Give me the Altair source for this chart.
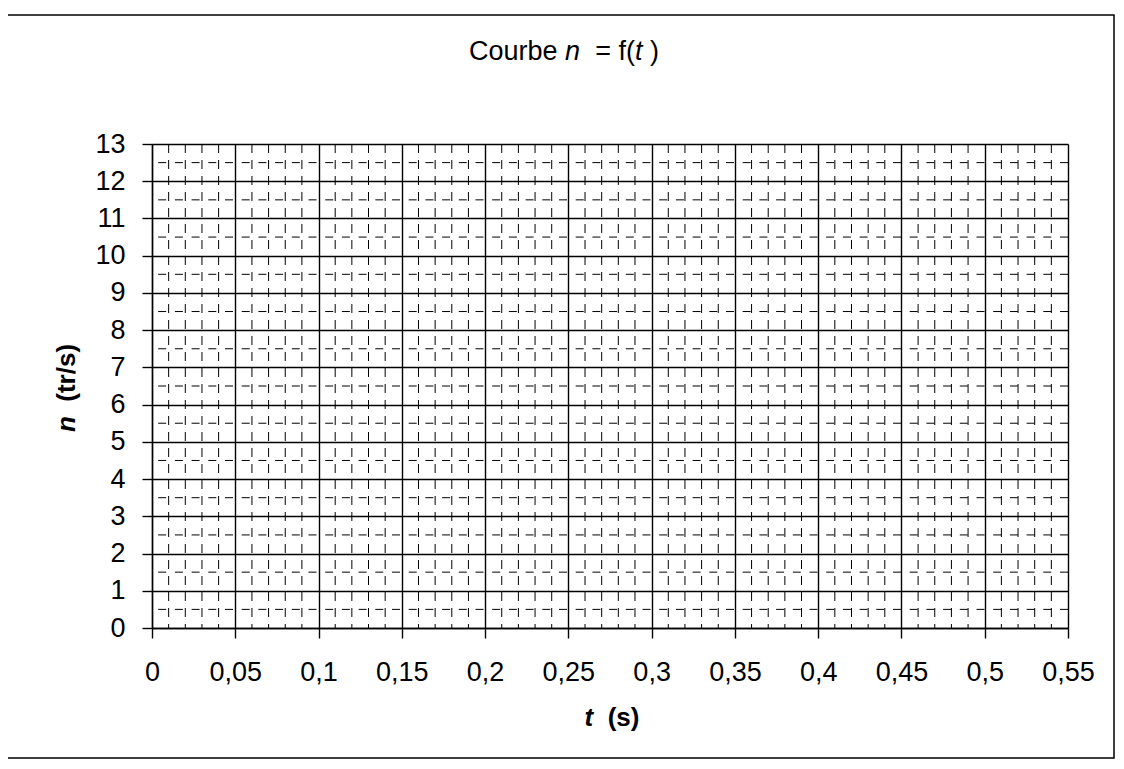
import altair as alt
import pandas as pd

# ---- data ----
t_major = [0, 0.05, 0.1, 0.15, 0.2, 0.25, 0.3, 0.35, 0.4, 0.45, 0.5, 0.55]
n_major = [0, 1, 2, 3, 4, 5, 6, 7, 8, 9, 10, 11, 12, 13]
t_minor = [0.01, 0.02, 0.03, 0.04, 0.06, 0.07, 0.08, 0.09,
           0.11, 0.12, 0.13, 0.14, 0.16, 0.17, 0.18, 0.19,
           0.21, 0.22, 0.23, 0.24, 0.26, 0.27, 0.28, 0.29,
           0.31, 0.32, 0.33, 0.34, 0.36, 0.37, 0.38, 0.39,
           0.41, 0.42, 0.43, 0.44, 0.46, 0.47, 0.48, 0.49,
           0.51, 0.52, 0.53, 0.54]
n_minor = [0.5, 1.5, 2.5, 3.5, 4.5, 5.5, 6.5, 7.5, 8.5, 9.5, 10.5, 11.5, 12.5]

FONT = "Liberation Sans"
W, H = 916, 484

xscale = alt.Scale(domain=[0, 0.55], nice=False, zero=False)
yscale = alt.Scale(domain=[0, 13], nice=False, zero=False)

xaxis = alt.Axis(values=t_major, grid=True, gridColor="black", gridWidth=1.4,
                 domainColor="black", domainWidth=1.4, tickColor="black", tickWidth=1.4,
                 tickSize=10, labelFont=FONT, labelFontSize=27, labelColor="black",
                 labelPadding=21, labelFlush=False, labelOverlap=False, title=None,
                 labelExpr="replace(format(datum.value, '.2~f'), '.', ',')")
yaxis = alt.Axis(values=n_major, grid=True, gridColor="black", gridWidth=1.4,
                 domainColor="black", domainWidth=1.4, tickColor="black", tickWidth=1.4,
                 tickSize=10, labelFont=FONT, labelFontSize=27, labelColor="black",
                 labelPadding=17, labelFlush=False, labelOverlap=False, title=None,
                 labelExpr="format(datum.value, 'd')")

vminor = alt.Chart(pd.DataFrame({"t": t_minor})).mark_rule(
    color="black", strokeWidth=1, strokeDash=[9, 7]
).encode(x=alt.X("t:Q", scale=xscale, axis=xaxis))

hminor = alt.Chart(pd.DataFrame({"n": n_minor})).mark_rule(
    color="black", strokeWidth=1, strokeDash=[8, 8.7]
).encode(y=alt.Y("n:Q", scale=yscale, axis=yaxis))

one = alt.Data(values=[{"k": 1}])

border = alt.Chart(one).mark_rect(fill="transparent", stroke="black", strokeWidth=1.5).encode(
    x=alt.value(-146), x2=alt.value(962), y=alt.value(-129), y2=alt.value(614)
)

# widths in em (Arial metrics) to place mixed-style text pieces
REG = {"C": .722, "o": .556, "u": .556, "r": .333, "b": .556, "e": .556, "n": .556,
       " ": .278, "=": .584, "f": .278, "(": .333, ")": .333, "t": .278}
BOLD = {"n": .611, "t": .333, " ": .278, "(": .333, ")": .333, "r": .389, "/": .278, "s": .556}


def pieces(parts, size, cx, cy, bold=False, vertical=False):
    """parts: (text, italic, gap_before_em)"""
    table = BOLD if bold else REG
    widths = [(sum(table[c] for c in txt) + gap) * size for txt, _, gap in parts]
    total = sum(widths)
    layers = []
    pos = -total / 2
    for (txt, italic, gap), w in zip(parts, widths):
        start = pos + gap * size
        kw = dict(text=txt, align="left", baseline="middle", font=FONT, fontSize=size,
                  color="black", fontStyle="italic" if italic else "normal",
                  fontWeight="bold" if bold else "normal")
        if vertical:
            kw["angle"] = 270
            layers.append(alt.Chart(one).mark_text(**kw).encode(
                x=alt.value(cx), y=alt.value(cy - start)))
        else:
            layers.append(alt.Chart(one).mark_text(**kw).encode(
                x=alt.value(cx + start), y=alt.value(cy)))
        pos += w
    return layers


title = pieces([("Courbe", False, 0), ("n", True, .278), ("= f(", False, .556),
                ("t", True, 0), (")", False, .278)], 27, 412, -92)
ytitle = pieces([("n", True, 0), ("(tr/s)", False, .556)], 26, -85, 244, bold=True, vertical=True)
xtitle = pieces([("t", True, 0), ("(s)", False, .556)], 26, 460, 574, bold=True)

chart = alt.layer(vminor, hminor, border, *title, *ytitle, *xtitle).properties(
    width=W, height=H,
    autosize=alt.AutoSizeParams(type="none"),
    padding={"left": 144, "top": 136, "right": 48, "bottom": 133},
    background="white",
).configure_view(stroke=None)

chart.save("out.html", embed_options={"renderer": "svg", "actions": False})
